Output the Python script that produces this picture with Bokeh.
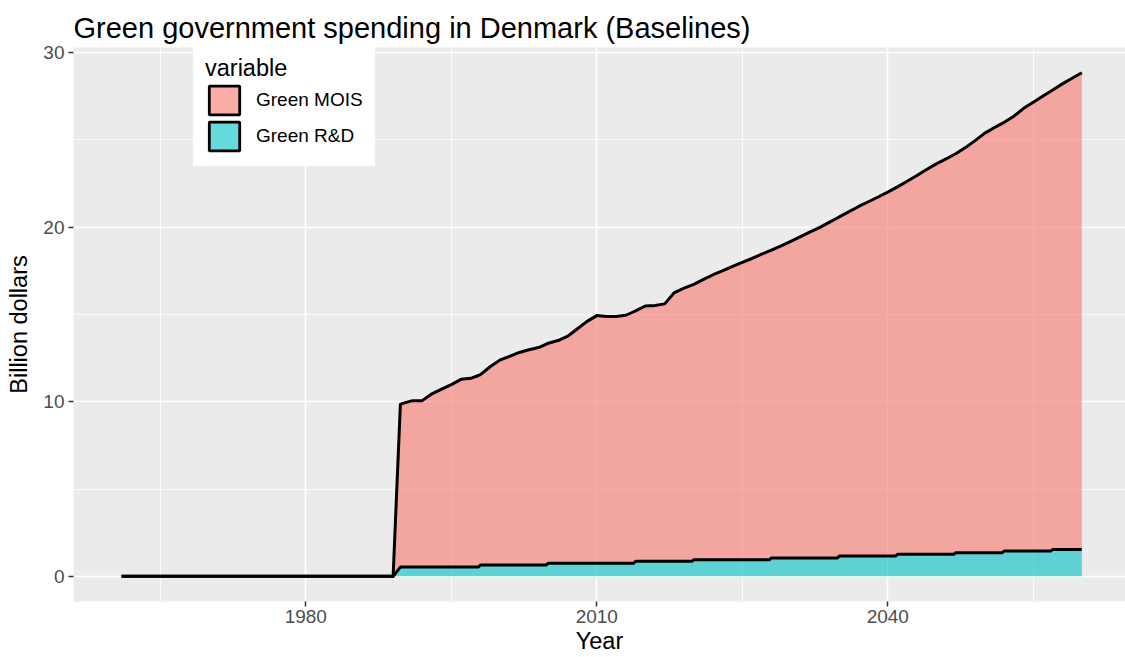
import numpy as np
from bokeh.plotting import figure
from bokeh.models import Range1d, FixedTicker, Legend, LegendItem, ColumnDataSource
from bokeh.embed import file_html
from bokeh.resources import INLINE

# ---- data ----
years = [1961, 1989, 1989.75, 1990, 1991, 1992, 1993, 1994, 1995, 1996, 1997, 1997.8,
         1998, 1999, 2000, 2001, 2002, 2003, 2004, 2004.8,
         2005, 2006, 2007, 2008, 2009, 2010, 2011, 2012, 2013, 2013.8,
         2014, 2015, 2016, 2017, 2018, 2019, 2019.8,
         2020, 2021, 2022, 2023, 2024, 2025, 2026, 2027, 2027.8,
         2028, 2029, 2030, 2031, 2032, 2033, 2034, 2034.8,
         2035, 2036, 2037, 2038, 2039, 2040, 2040.8,
         2041, 2042, 2043, 2044, 2045, 2046, 2046.8,
         2047, 2048, 2049, 2050, 2051, 2051.8,
         2052, 2053, 2054, 2055, 2056, 2056.8,
         2057, 2058, 2059, 2060]

green_rd = [0, 0, 0.53, 0.53, 0.53, 0.53, 0.53, 0.53, 0.53, 0.53, 0.53, 0.53,
            0.65, 0.65, 0.65, 0.65, 0.65, 0.65, 0.65, 0.65,
            0.75, 0.75, 0.75, 0.75, 0.75, 0.75, 0.75, 0.75, 0.75, 0.75,
            0.86, 0.86, 0.86, 0.86, 0.86, 0.86, 0.86,
            0.95, 0.95, 0.95, 0.95, 0.95, 0.95, 0.95, 0.95, 0.95,
            1.05, 1.05, 1.05, 1.05, 1.05, 1.05, 1.05, 1.05,
            1.16, 1.16, 1.16, 1.16, 1.16, 1.16, 1.16,
            1.26, 1.26, 1.26, 1.26, 1.26, 1.26, 1.26,
            1.35, 1.35, 1.35, 1.35, 1.35, 1.35,
            1.45, 1.45, 1.45, 1.45, 1.45, 1.45,
            1.53, 1.53, 1.53, 1.53]

green_mois = [0, 0, 9.32, 9.37, 9.53, 9.53, 9.92, 10.19, 10.45, 10.75, 10.81, 10.97,
              10.90, 11.35, 11.73, 11.95, 12.17, 12.32, 12.45, 12.65,
              12.60, 12.75, 13.00, 13.43, 13.85, 14.18, 14.13, 14.13, 14.20, 14.40,
              14.34, 14.62, 14.65, 14.74, 15.39, 15.64, 15.82,
              15.77, 16.05, 16.32, 16.55, 16.80, 17.03, 17.25, 17.50, 17.68,
              17.63, 17.87, 18.13, 18.40, 18.67, 18.93, 19.23, 19.47,
              19.42, 19.72, 20.02, 20.29, 20.56, 20.84, 21.08,
              21.04, 21.36, 21.69, 22.04, 22.36, 22.64, 22.88,
              22.85, 23.20, 23.60, 24.03, 24.35, 24.59,
              24.55, 24.90, 25.35, 25.70, 26.05, 26.33,
              26.32, 26.67, 26.99, 27.31]

series_names = ["Green MOIS", "Green R&D"]
series_colors = ["#F8766D", "#00BFC4"]
x_ticks = [1980, 2010, 2040]
x_minor = [1965, 1995, 2025, 2055]
y_ticks = [0, 10, 20, 30]
y_minor = [5, 15, 25]

# ---- stacking ----
x = np.array(years, dtype=float)
rd = np.array(green_rd, dtype=float)
mois = np.array(green_mois, dtype=float)
rd_top = rd
mois_top = rd + mois
zeros = np.zeros_like(x)

xmin, xmax = x.min(), x.max()
xpad = 0.05 * (xmax - xmin)
ymax = mois_top.max()
ypad = 0.05 * ymax

FONT = "Liberation Sans"

# the reference panel runs slightly past the right window edge
p = figure(frame_width=1052, frame_height=554, output_backend="svg", toolbar_location=None,
           x_range=Range1d(xmin - xpad, xmax + 0.91 * xpad), y_range=Range1d(-ypad, ymax + ypad),
           min_border_left=73, min_border_right=0, min_border_top=47, min_border_bottom=50,
           title="Green government spending in Denmark (Baselines)")

p.background_fill_color = "#EBEBEB"
p.border_fill_color = "white"
p.outline_line_color = None

p.title.text_font = FONT
p.title.text_font_size = "29px"
p.title.text_font_style = "normal"
p.title.text_color = "black"
p.title.align = "left"
p.title.offset = 0
p.title.standoff = 7

# areas
p.varea(x=x, y1=rd_top, y2=mois_top, fill_color=series_colors[0], fill_alpha=0.6)
p.varea(x=x, y1=zeros, y2=rd_top, fill_color=series_colors[1], fill_alpha=0.6)
# outlines (upper line of each stacked layer)
p.line(x, mois_top, line_color="black", line_width=3, line_join="round")
p.line(x, rd_top, line_color="black", line_width=3, line_join="round")

# legend key renderers (no visible data)
key_src = ColumnDataSource(dict(l=[np.nan], r=[np.nan], t=[np.nan], b=[np.nan]))
k1 = p.quad(left="l", right="r", top="t", bottom="b", source=key_src,
            fill_color=series_colors[0], fill_alpha=0.6, line_color="black", line_width=2.8)
k2 = p.quad(left="l", right="r", top="t", bottom="b", source=key_src,
            fill_color=series_colors[1], fill_alpha=0.6, line_color="black", line_width=2.8)

legend = Legend(items=[LegendItem(label=series_names[0], renderers=[k1]),
                       LegendItem(label=series_names[1], renderers=[k2])],
                location=(120, 435), title="variable")
legend.title_text_font = FONT
legend.title_text_font_size = "23.5px"
legend.title_text_font_style = "normal"
legend.title_text_color = "black"
legend.title_standoff = 0
legend.label_text_font = FONT
legend.label_text_font_size = "19px"
legend.label_text_color = "black"
legend.label_standoff = 13
legend.glyph_width = 38
legend.glyph_height = 36
legend.label_height = 36
legend.spacing = 0
legend.padding = 11
legend.margin = 0
legend.border_line_color = "white"
legend.border_line_width = 1
legend.background_fill_color = "white"
legend.background_fill_alpha = 1.0
p.add_layout(legend)

# grid
p.xgrid.ticker = FixedTicker(ticks=x_ticks, minor_ticks=x_minor)
p.ygrid.ticker = FixedTicker(ticks=y_ticks, minor_ticks=y_minor)
for g in (p.xgrid, p.ygrid):
    g.grid_line_color = "white"
    g.grid_line_width = 1.6
    g.minor_grid_line_color = "white"
    g.minor_grid_line_width = 0.8

# axes
p.xaxis.ticker = FixedTicker(ticks=x_ticks, minor_ticks=x_minor)
p.yaxis.ticker = FixedTicker(ticks=y_ticks, minor_ticks=y_minor)
p.xaxis.axis_label = "Year"
p.yaxis.axis_label = "Billion dollars"
for ax in (p.xaxis, p.yaxis):
    ax.axis_line_color = None
    ax.major_tick_line_color = "#333333"
    ax.major_tick_line_width = 1.5
    ax.major_tick_out = 5
    ax.major_tick_in = 0
    ax.minor_tick_line_color = None
    ax.major_label_text_font = FONT
    ax.major_label_text_font_size = "19px"
    ax.major_label_text_color = "#4D4D4D"
    ax.axis_label_text_font = FONT
    ax.axis_label_text_font_size = "23.5px"
    ax.axis_label_text_font_style = "normal"
    ax.axis_label_text_color = "black"
p.xaxis.major_label_standoff = 3
p.yaxis.major_label_standoff = 4
p.xaxis.axis_label_standoff = 2
p.yaxis.axis_label_standoff = 8

open("out.html", "w").write(file_html(p, INLINE))
